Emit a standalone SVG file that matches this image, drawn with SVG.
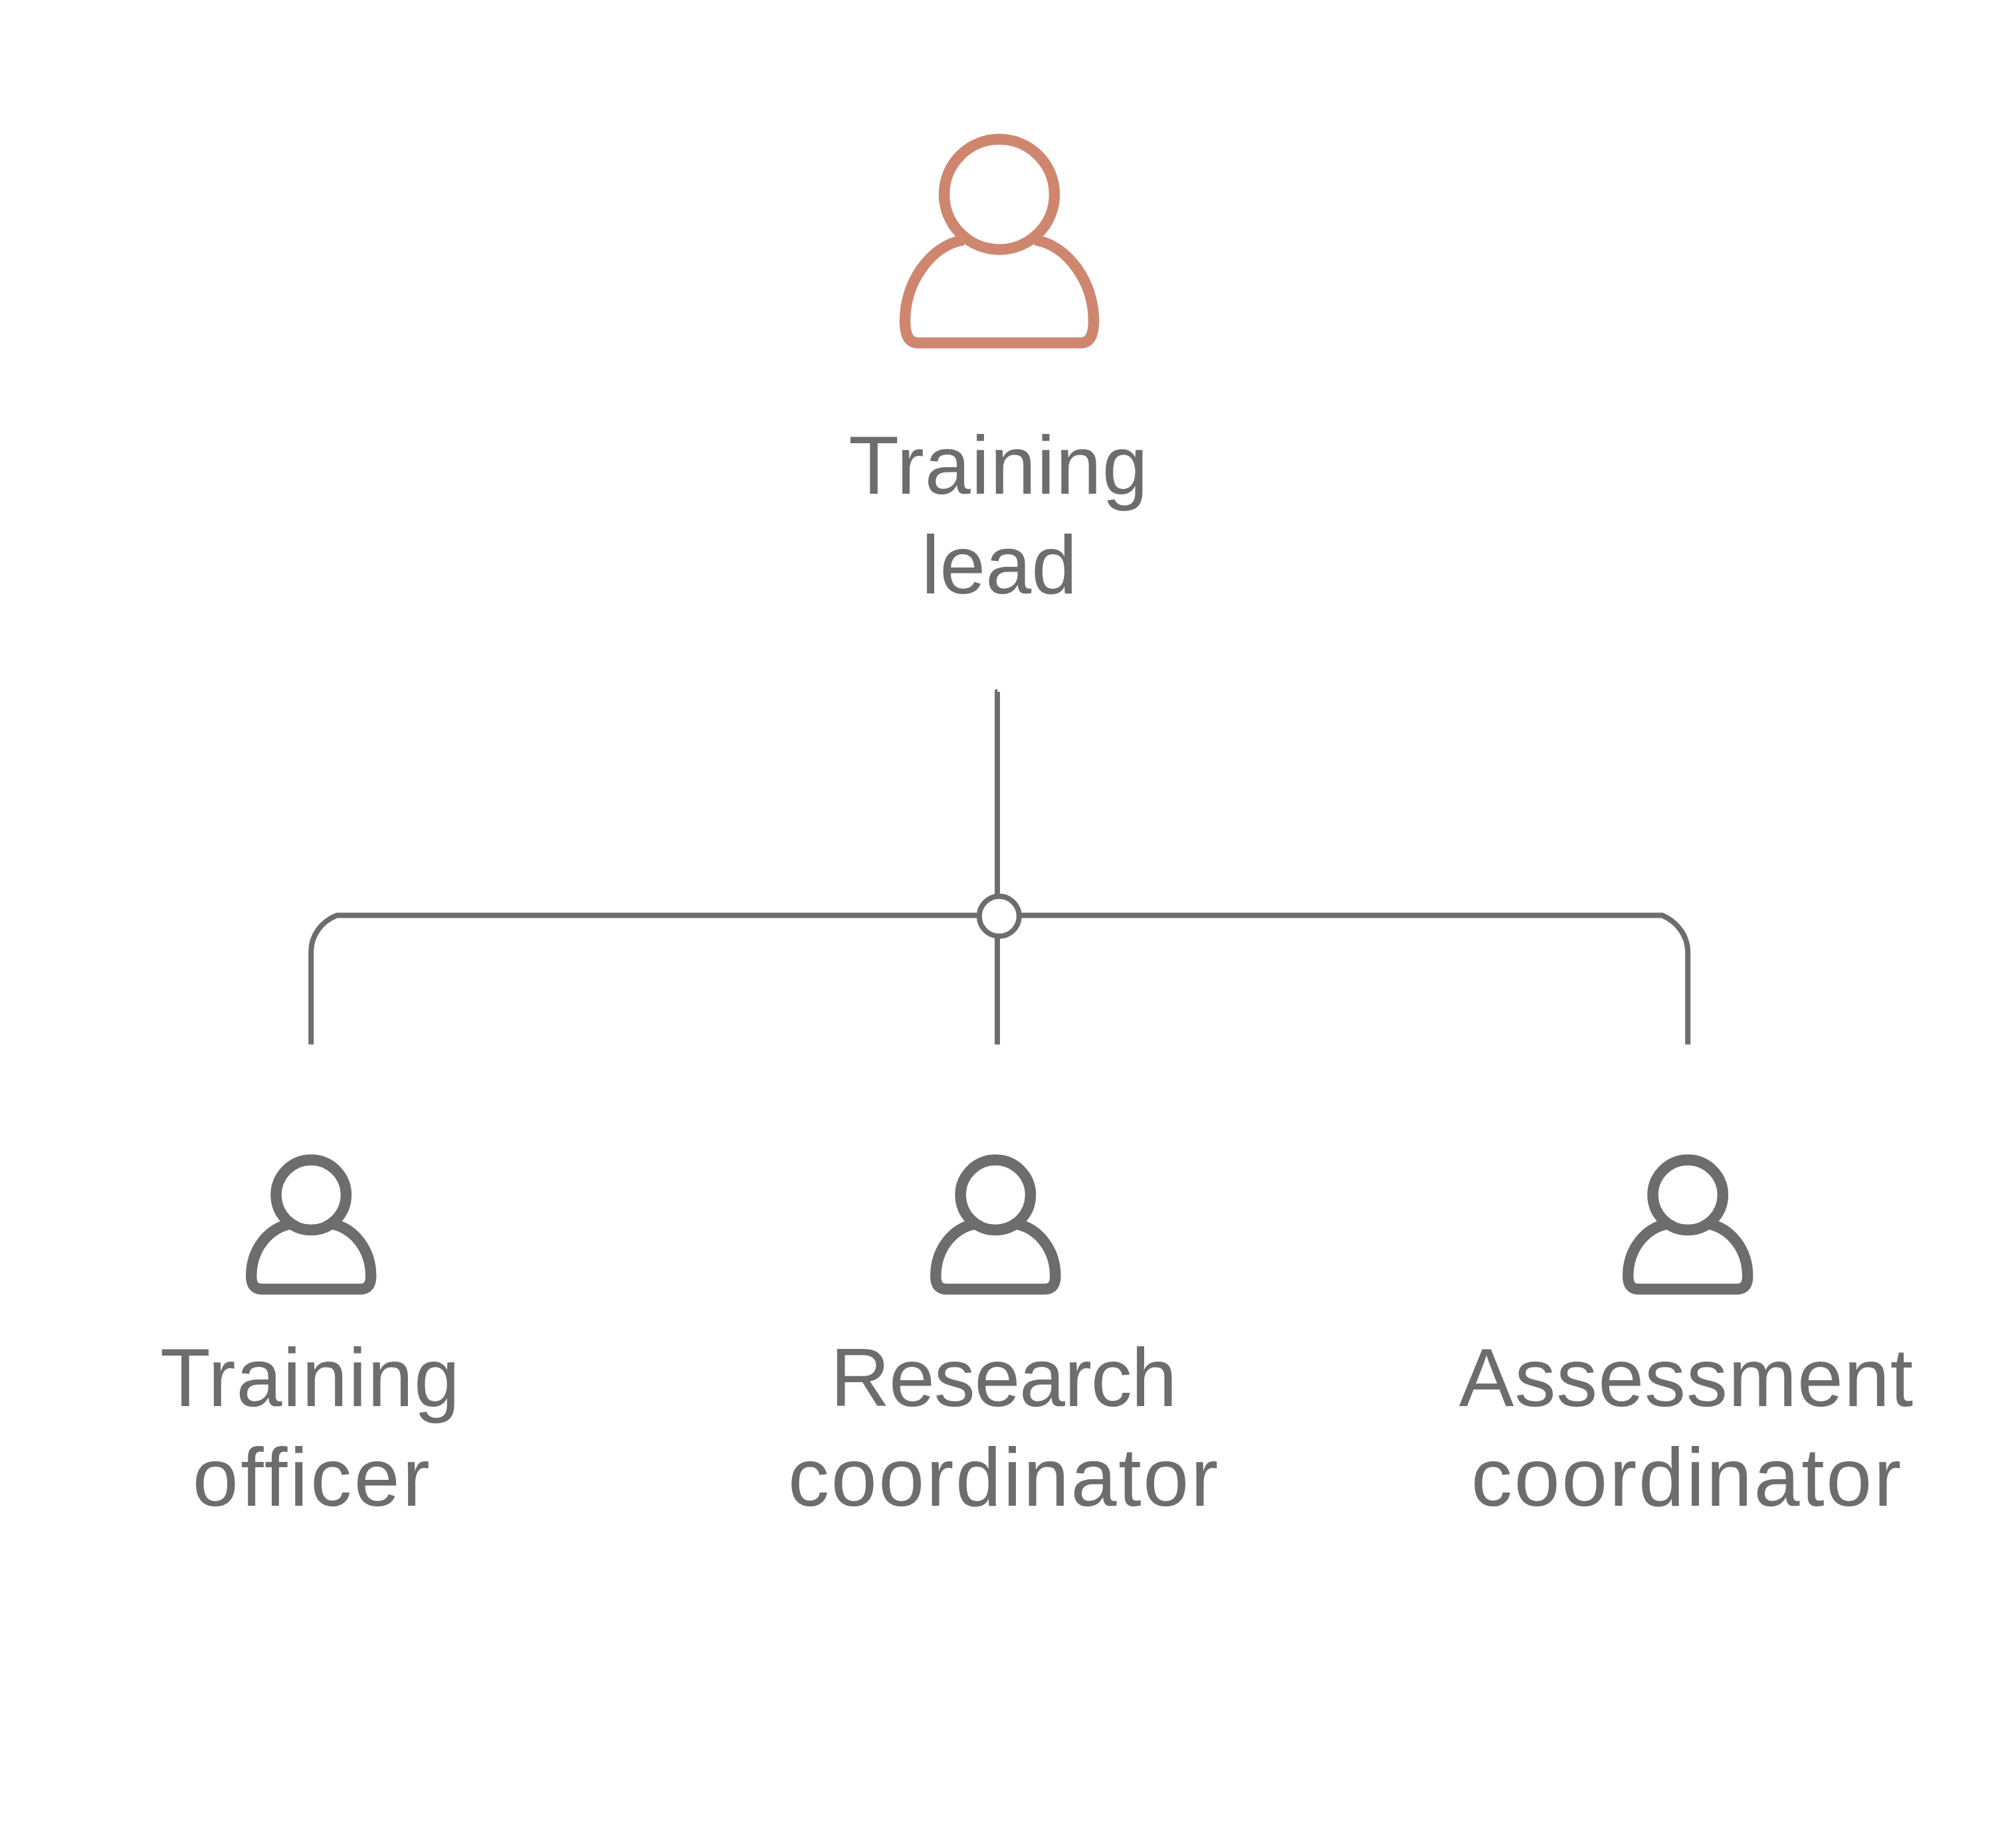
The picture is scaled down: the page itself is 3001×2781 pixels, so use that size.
<svg xmlns="http://www.w3.org/2000/svg" width="3001" height="2781" viewBox="0 0 3001 2781">
<style>
.g{fill:none;stroke:#6d6d6d;stroke-width:16.5}
.o{fill:none;stroke:#cf866f;stroke-width:16.5}
.c{fill:none;stroke:#6d6d6d;stroke-width:8}
text{font-family:"Liberation Sans",Arial,sans-serif;font-size:124px;fill:#6d6d6d;text-anchor:middle}
</style>
<defs>
<path id="body" d="M-30 43C-65 50 -90 82 -90 122C-90 134 -86 141.700 -74 141.700H74C86 141.700 90 134 90 122C90 82 65 50 30 43"/>
</defs>
<rect width="3001" height="2781" fill="#fff"/>
<g id="connectors">
<path fill="#6d6d6d" d="M1497 1039L1499 1037H1501V1041H1505V1346H1497Z"/>
<path class="c" d="M1501 1412V1571.700"/>
<path class="c" d="M468.200 1571.700V1432C468.200 1408 483 1387 507 1377.500H1470"/>
<path class="c" d="M2540.200 1571.700V1433C2540.200 1408 2524 1387 2501.700 1377.500H1537"/>
<circle class="c" cx="1503.800" cy="1378.800" r="30" fill="#fff"/>
</g>
<g id="lead">
<path class="o" d="M1450 361C1400 370 1362 425 1362 483C1362 505 1368 516 1382 516H1626C1640 516 1646 505 1646 483C1646 425 1608 370 1558 361"/>
<circle class="o" cx="1504" cy="292.500" r="83"/>
<text><tspan x="1503" y="742.700" letter-spacing="1">Training</tspan><tspan x="1504" y="892.700">lead</tspan></text>
</g>
<g id="officer">
<use href="#body" class="g" x="468.200" y="1798.300"/>
<circle class="g" cx="468.200" cy="1798.300" r="52.700"/>
<text><tspan x="467" y="2116" letter-spacing="1.100">Training</tspan><tspan x="470" y="2266" letter-spacing="3.600">officer</tspan></text>
</g>
<g id="research">
<use href="#body" class="g" x="1498.300" y="1798.300"/>
<circle class="g" cx="1498.300" cy="1798.300" r="52.700"/>
<text><tspan x="1510" y="2116" letter-spacing="-1.300">Research</tspan><tspan x="1511" y="2266" letter-spacing="2.700">coordinator</tspan></text>
</g>
<g id="assessment">
<use href="#body" class="g" x="2540.200" y="1798.300"/>
<circle class="g" cx="2540.200" cy="1798.300" r="52.700"/>
<text><tspan x="2538" y="2116" letter-spacing="0.900">Assessment</tspan><tspan x="2539" y="2266" letter-spacing="2.700">coordinator</tspan></text>
</g>
</svg>
